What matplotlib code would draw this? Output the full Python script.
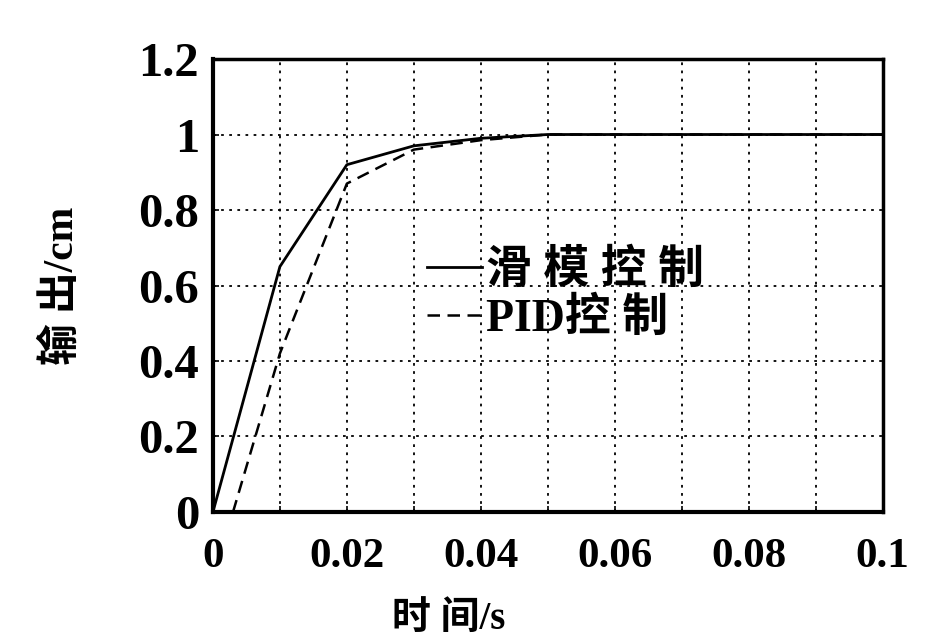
import matplotlib
matplotlib.use('Agg')
import matplotlib.pyplot as plt
from matplotlib.ticker import MultipleLocator

plt.rcParams['font.family'] = ['Liberation Serif', 'Noto Sans CJK SC']
plt.rcParams['font.weight'] = 'bold'

# time samples (s) and outputs (cm)
t_smc = [0.0, 0.01, 0.02, 0.03, 0.04, 0.05, 0.1]
y_smc = [0.0, 0.65, 0.92, 0.97, 0.99, 1.0, 1.0]
t_pid = [0.0, 0.003, 0.01, 0.02, 0.03, 0.04, 0.05, 0.1]
y_pid = [0.0, 0.0, 0.42, 0.87, 0.96, 0.985, 1.0, 1.0]

xticks = [0, 0.02, 0.04, 0.06, 0.08, 0.1]
xticklabels = ['0', '0.02', '0.04', '0.06', '0.08', '0.1']
yticks = [0, 0.2, 0.4, 0.6, 0.8, 1.0, 1.2]
yticklabels = ['0', '0.2', '0.4', '0.6', '0.8', '1', '1.2']

fig = plt.figure(figsize=(9.38, 6.38), dpi=100)
ax = fig.add_axes([0.227, 0.1975, 0.714, 0.71])

ax.plot(t_smc, y_smc, color='black', lw=2.0, label='滑 模 控 制')
ax.plot(t_pid, y_pid, color='black', lw=1.8, ls=(0, (5, 3)), label='PID控 制')

ax.set_xlim(0, 0.1)
ax.set_ylim(0, 1.2)
ax.set_xticks(xticks)
ax.set_xticklabels(xticklabels)
ax.set_yticks(yticks)
ax.set_yticklabels(yticklabels)
ax.xaxis.set_minor_locator(MultipleLocator(0.01))

ax.grid(which='both', axis='x', color='black', ls=(0, (1.5, 3)), lw=1.3)
ax.grid(which='major', axis='y', color='black', ls=(0, (1.5, 3)), lw=1.3)

ax.tick_params(axis='both', which='both', direction='in', length=4, width=1.2)
ax.tick_params(axis='y', labelsize=35, pad=10)
ax.tick_params(axis='x', labelsize=31, pad=19)
for lab in ax.get_xticklabels() + ax.get_yticklabels():
    lab.set_fontweight('bold')

for side in ['left', 'bottom']:
    ax.spines[side].set_linewidth(3)
for side in ['top', 'right']:
    ax.spines[side].set_linewidth(2.5)

ax.set_ylabel('输 出/cm', fontsize=30, fontweight='bold')
ax.yaxis.set_label_coords(-0.196, 0.5)
fig.text(0.478, 0.058, '时 间/s', fontsize=28, fontweight='bold',
         ha='center', va='top')

leg = ax.legend(loc='upper left', bbox_to_anchor=(0.285, 0.63), frameon=False,
                fontsize=33, handlelength=1.2, handletextpad=0.1,
                labelspacing=0.1, borderpad=0)

fig.savefig('out.png', dpi=100)
